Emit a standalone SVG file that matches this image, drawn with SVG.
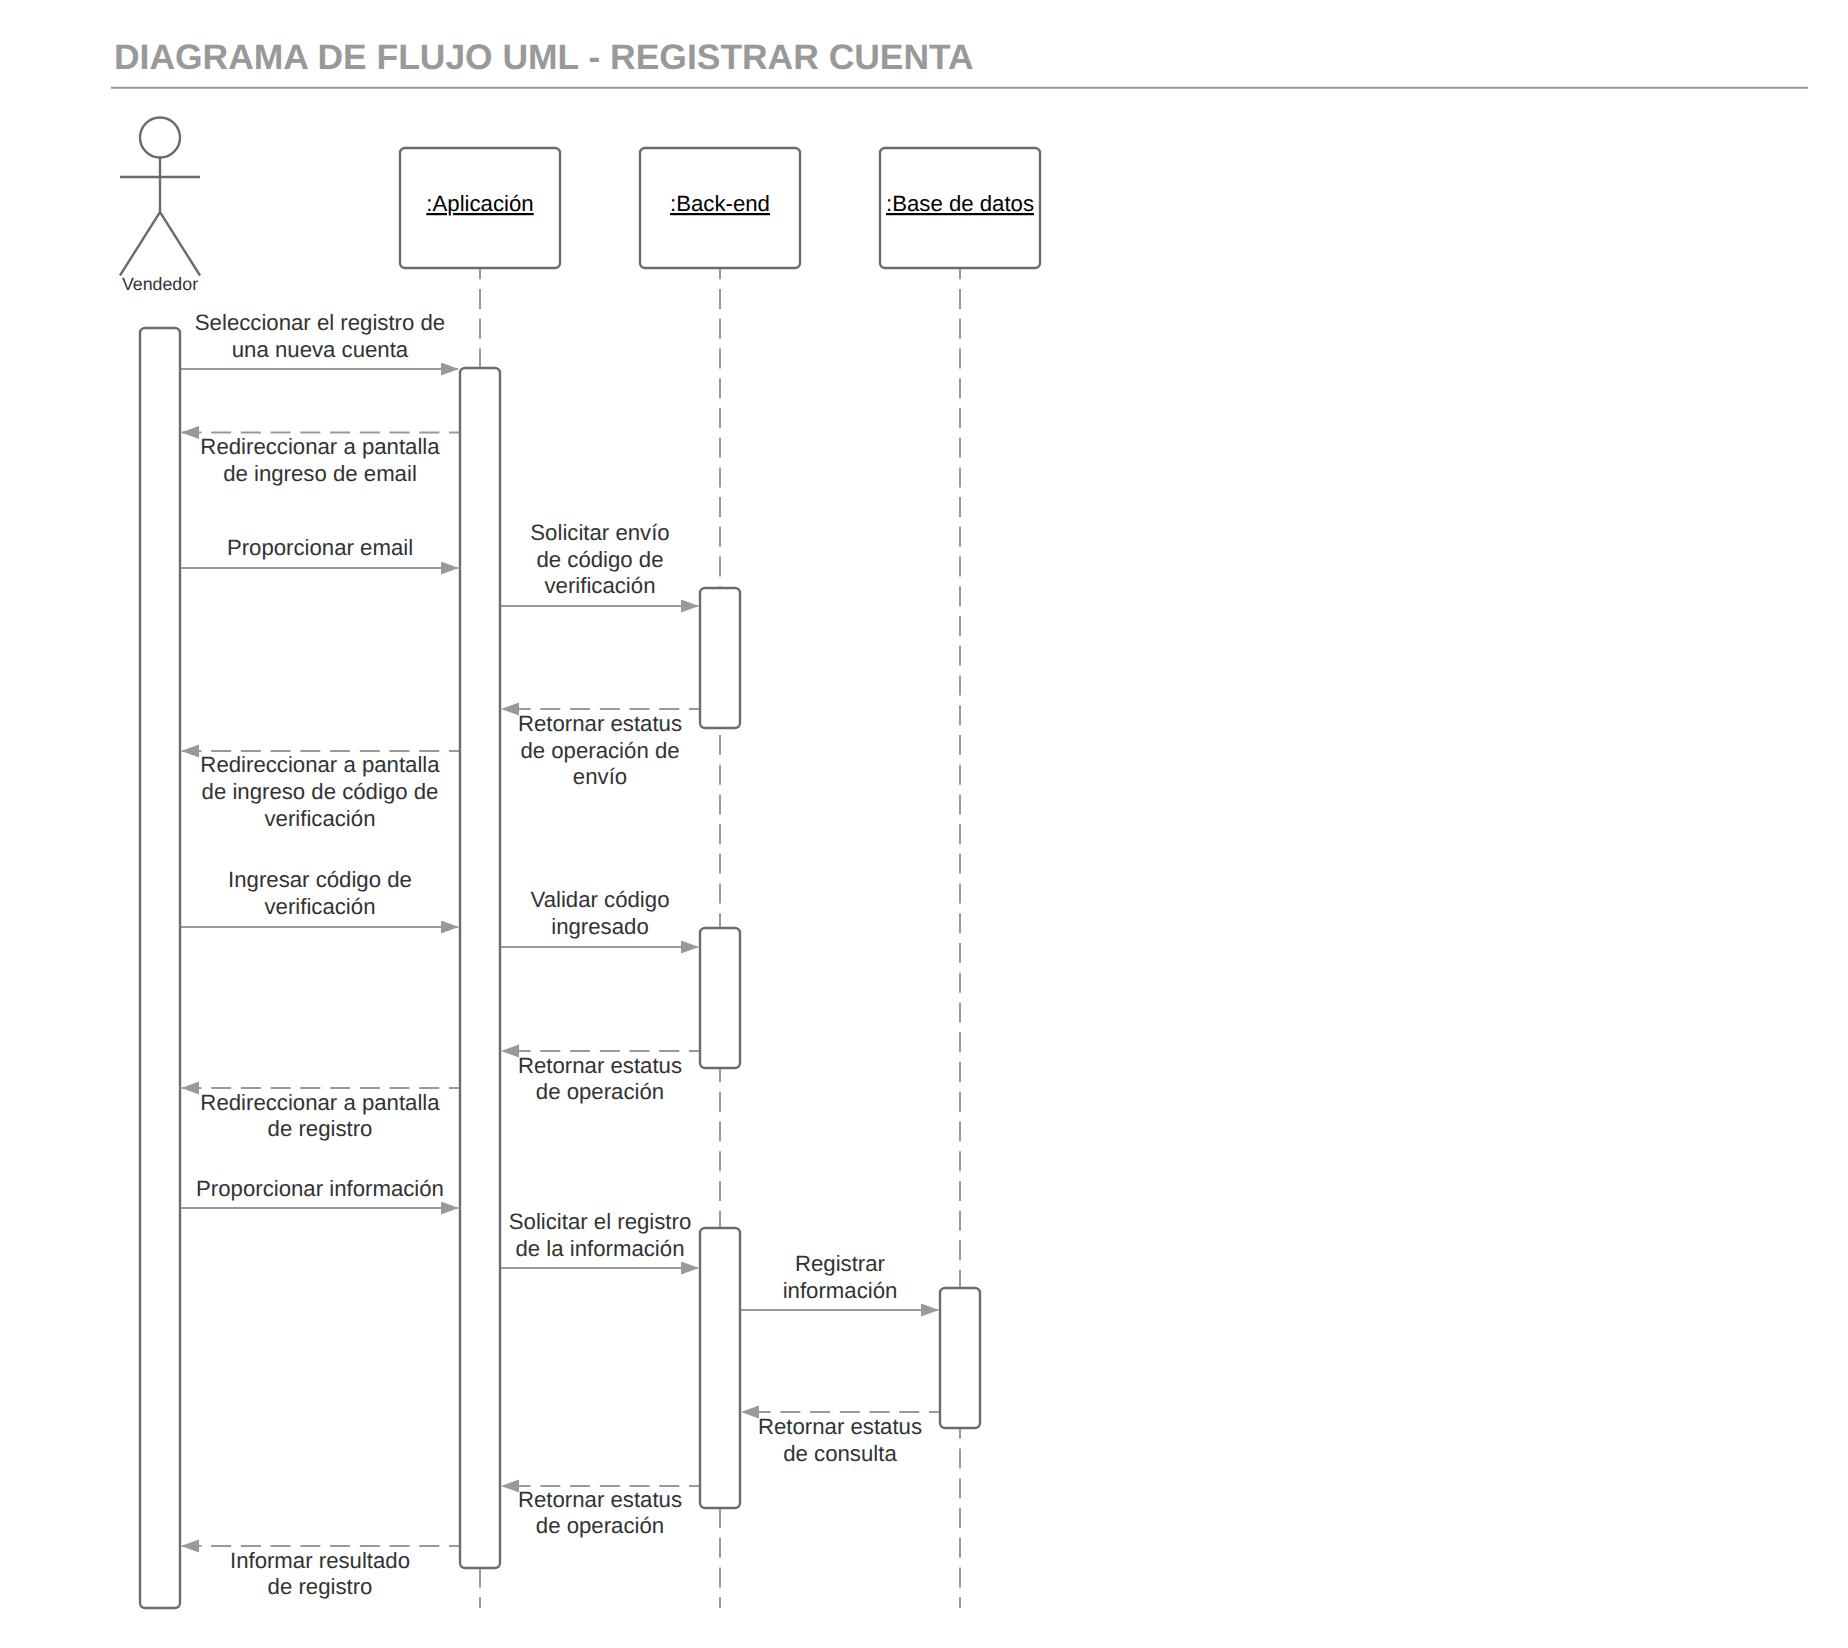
<svg xmlns="http://www.w3.org/2000/svg" width="1848" height="1648" viewBox="0 0 1848 1648">
<style>
text{font-family:"Liberation Sans",Arial,sans-serif;text-rendering:geometricPrecision}
.t{font-size:35.45px;font-weight:700;fill:#999}
.l{font-size:22.2px;fill:#333;text-anchor:middle}
.n{font-size:22.2px;fill:#000;text-anchor:middle;text-decoration:underline}
.a{font-size:17.8px;fill:#333;text-anchor:middle}
.b{fill:#fff;stroke:#6b6b6b;stroke-width:2.4}
.s{fill:none;stroke:#6b6b6b;stroke-width:2.4}
.ll{stroke:#999;stroke-width:2;stroke-dasharray:20 9.73;fill:none}
.m{stroke:#999;stroke-width:2;fill:none;marker-end:url(#h)}
.d{stroke:#999;stroke-width:2;fill:none;stroke-dasharray:20 9.73;stroke-dashoffset:9;marker-end:url(#h)}
</style>
<defs><marker id="h" markerUnits="userSpaceOnUse" markerWidth="20" markerHeight="14" refX="17" refY="6.5" orient="auto"><path d="M0 0L18 6.5L0 13z" fill="#999"/></marker></defs>
<rect width="1848" height="1648" fill="#fff"/>
<text class="t" x="114" y="68.5">DIAGRAMA DE FLUJO UML - REGISTRAR CUENTA</text>
<path d="M111 87.7H1808" stroke="#999" stroke-width="2"/>
<g id="connectors">
<path class="ll" d="M480 259.27V1608"/>
<path class="ll" d="M720 259.27V1608"/>
<path class="ll" d="M960 259.27V1608"/>
<path class="m" d="M180 369H458"/>
<path class="d" d="M460 432.5H182"/>
<path class="m" d="M180 568H458"/>
<path class="m" d="M500 606H698"/>
<path class="d" d="M700 709H502"/>
<path class="d" d="M460 751H182"/>
<path class="m" d="M180 927H458"/>
<path class="m" d="M500 947H698"/>
<path class="d" d="M700 1051H502"/>
<path class="d" d="M460 1088H182"/>
<path class="m" d="M180 1208H458"/>
<path class="m" d="M500 1268H698"/>
<path class="m" d="M740 1310H938"/>
<path class="d" d="M940 1412H742"/>
<path class="d" d="M700 1486H502"/>
<path class="d" d="M460 1546H182"/>
<g id="labels">
<text class="l" x="320" y="330">Seleccionar el registro de<tspan x="320" dy="26.7">una nueva cuenta</tspan></text>
<text class="l" x="320" y="453.5">Redireccionar a pantalla<tspan x="320" dy="27.1">de ingreso de email</tspan></text>
<text class="l" x="320" y="555">Proporcionar email</text>
<text class="l" x="600" y="539.5">Solicitar envío<tspan x="600" dy="27">de código de</tspan><tspan x="600" dy="26.5">verificación</tspan></text>
<text class="l" x="600" y="730.5">Retornar estatus<tspan x="600" dy="27.2">de operación de</tspan><tspan x="600" dy="26.4">envío</tspan></text>
<text class="l" x="320" y="772">Redireccionar a pantalla<tspan x="320" dy="26.9">de ingreso de código de</tspan><tspan x="320" dy="26.6">verificación</tspan></text>
<text class="l" x="320" y="886.5">Ingresar código de<tspan x="320" dy="27">verificación</tspan></text>
<text class="l" x="600" y="906.5">Validar código<tspan x="600" dy="27">ingresado</tspan></text>
<text class="l" x="600" y="1072.5">Retornar estatus<tspan x="600" dy="26.8">de operación</tspan></text>
<text class="l" x="320" y="1109.5">Redireccionar a pantalla<tspan x="320" dy="26.8">de registro</tspan></text>
<text class="l" x="320" y="1195.5">Proporcionar información</text>
<text class="l" x="600" y="1228.5">Solicitar el registro<tspan x="600" dy="27.1">de la información</tspan></text>
<text class="l" x="840" y="1271">Registrar<tspan x="840" dy="26.5">información</tspan></text>
<text class="l" x="840" y="1434">Retornar estatus<tspan x="840" dy="26.6">de consulta</tspan></text>
<text class="l" x="600" y="1506.5">Retornar estatus<tspan x="600" dy="26.8">de operación</tspan></text>
<text class="l" x="320" y="1567.5">Informar resultado<tspan x="320" dy="26.6">de registro</tspan></text>
</g>
</g>
<g id="actor-vendedor">
<ellipse class="s" cx="160" cy="137.5" rx="20" ry="20"/>
<path class="s" d="M160 157.5V212M120 177H200M120 275.5L160 212L200 275.5"/>
<text class="a" x="160" y="290.3">Vendedor</text>
</g>
<g id="obj-aplicacion"><rect class="b" x="400" y="148" width="160" height="120" rx="5"/><text class="n" x="480" y="211">:Aplicación</text></g>
<g id="obj-backend"><rect class="b" x="640" y="148" width="160" height="120" rx="5"/><text class="n" x="720" y="211">:Back-end</text></g>
<g id="obj-bd"><rect class="b" x="880" y="148" width="160" height="120" rx="5"/><text class="n" x="960" y="211">:Base de datos</text></g>
<g id="act-vendedor"><rect class="b" x="140" y="328" width="40" height="1280" rx="5"/></g>
<g id="act-aplicacion"><rect class="b" x="460" y="368" width="40" height="1200" rx="5"/></g>
<g id="act-backend-1"><rect class="b" x="700" y="588" width="40" height="140" rx="5"/></g>
<g id="act-backend-2"><rect class="b" x="700" y="928" width="40" height="140" rx="5"/></g>
<g id="act-backend-3"><rect class="b" x="700" y="1228" width="40" height="280" rx="5"/></g>
<g id="act-bd"><rect class="b" x="940" y="1288" width="40" height="140" rx="5"/></g>
</svg>
